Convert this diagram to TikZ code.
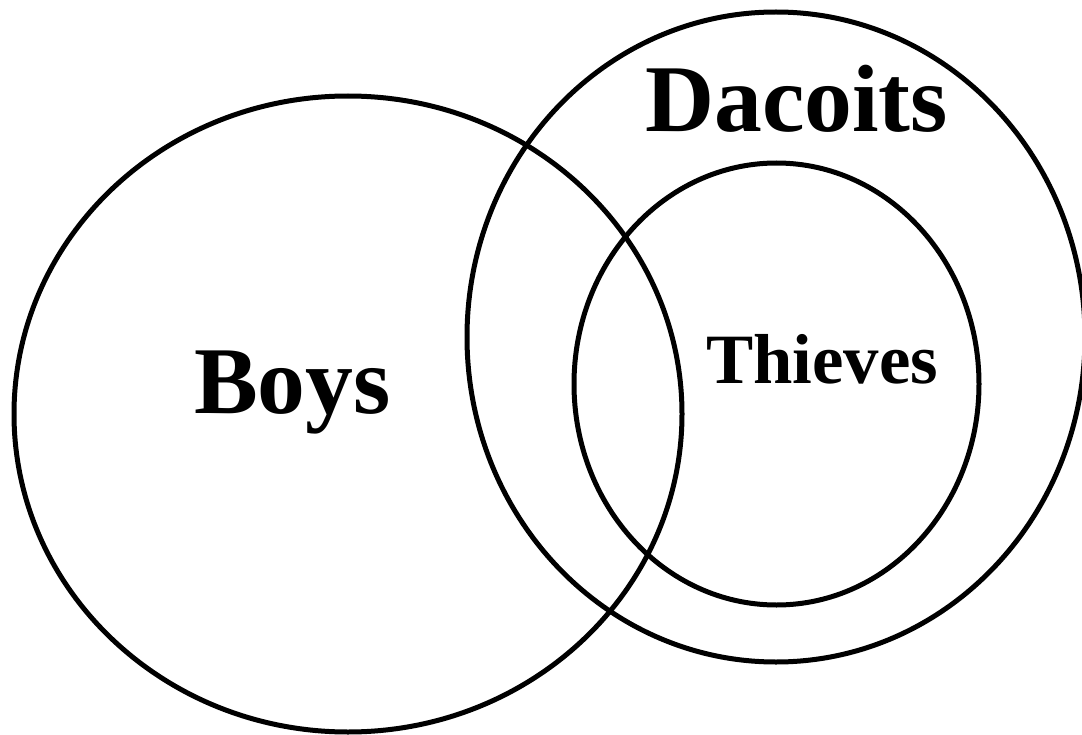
\documentclass[tikz,border=0pt]{standalone}
\usepackage{fontspec}
\setmainfont{Liberation Serif}
\begin{document}
\begin{tikzpicture}[x=1bp,y=-1bp,
  setline/.style={line width=5bp, black},
  lbl/.style={inner sep=0pt, anchor=base west, font=\bfseries}]
\useasboundingbox (0,0) rectangle (1082,735);
\draw[setline] (348,414) ellipse [x radius=334, y radius=318];
\draw[setline] (776,337) ellipse [x radius=309, y radius=325];
\draw[setline] (776.5,384) ellipse [x radius=202.5, y radius=221];
\node[lbl, font=\bfseries\fontsize{96}{100}\selectfont] (dacoits) at (645,132) {Dacoits};
\node[lbl, font=\bfseries\fontsize{96}{100}\selectfont] (boys) at (194,413) {Boys};
\node[lbl, font=\bfseries\fontsize{71}{74}\selectfont] (thieves) at (706,383) {Thieves};
\end{tikzpicture}
\end{document}
